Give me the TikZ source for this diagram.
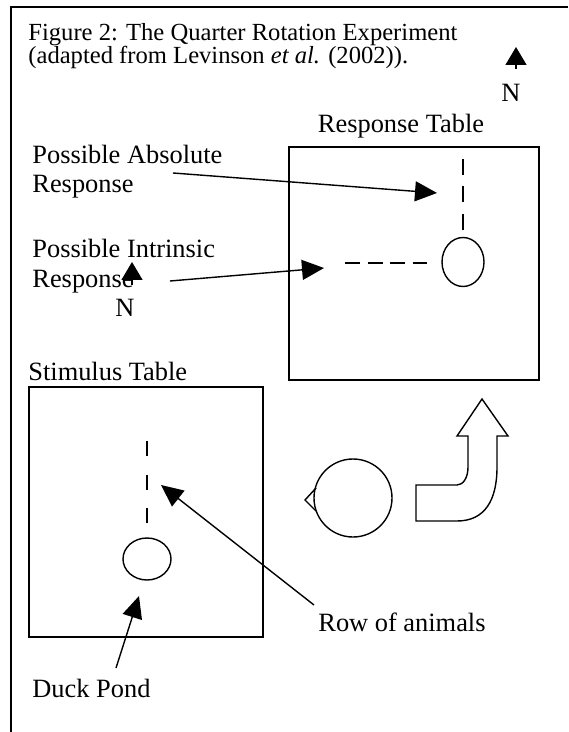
\documentclass[tikz,border=0pt]{standalone}
\usepackage{fontspec}
\setmainfont{Liberation Serif}
\usetikzlibrary{arrows.meta}
\begin{document}
\begin{tikzpicture}[x=0.5pt,y=-0.5pt,
  txt/.style={inner sep=0pt, font=\fontsize{13.2}{15}\selectfont},
  captxt/.style={inner sep=0pt, anchor=base west, font=\fontsize{12.3}{14}\selectfont},
  lbl/.style={txt, anchor=base west},
  frame/.style={line width=0.85pt},
  outline/.style={line width=0.7pt},
  pointer/.style={line width=0.7pt, -{Triangle[length=11pt,width=10pt]}},
  north/.style={line width=0.7pt, -{Triangle[length=9pt,width=10.5pt]}},
  dashA/.style={line width=0.8pt, dash pattern=on 8pt off 5.75pt},
  dashB/.style={line width=0.8pt, dash pattern=on 7.5pt off 3.75pt},
  dashC/.style={line width=0.8pt, dash pattern=on 7.5pt off 9.25pt}]
\useasboundingbox (0,0) rectangle (568,732);

% page frame (left and top edges)
\draw[frame] (568,7) -- (11,7) -- (11,732);

% caption
\node[captxt] (cap1) at (28,41) {Figure 2: The Quarter Rotation Experiment};
\node[captxt] (cap2) at (28,64) {(adapted from Levinson \textit{et al.} (2002)).};

% north indicator, top right
\coordinate (nAfoot) at (516,69);
\coordinate (nAtip) at (516,47);
\draw[north] (nAfoot) -- (nAtip);
\node[txt, anchor=base] (nA) at (511,102) {N};

% response table
\node[txt, anchor=base] (resplbl) at (401,133) {Response Table};
\draw[frame] (289,147) rectangle (539,380);
\coordinate (rvTop) at (463,159);
\coordinate (rvBot) at (463,230);
\draw[dashA] (rvTop) -- (rvBot);
\coordinate (rhL) at (345,263);
\coordinate (rhR) at (427,263);
\draw[dashB] (rhL) -- (rhR);
\draw[outline] (463,262) ellipse [x radius=10.5pt, y radius=12.25pt];

% response labels and pointers
\node[lbl] (abs1) at (32,164) {Possible Absolute};
\node[lbl] (abs2) at (32,193) {Response};
\coordinate (absStart) at (173,173);
\coordinate (absEnd) at (437,193);
\draw[pointer] (absStart) -- (absEnd);

\node[lbl] (int1) at (32,258) {Possible Intrinsic};
\node[lbl] (int2) at (32,287) {Response};
\coordinate (intStart) at (170,281);
\coordinate (intEnd) at (324,268);
\draw[pointer] (intStart) -- (intEnd);

% second north indicator
\coordinate (nBfoot) at (132,285);
\coordinate (nBtip) at (132,262);
\draw[north] (nBfoot) -- (nBtip);
\node[txt, anchor=base] (nB) at (125,316) {N};

% stimulus table
\node[lbl] (stimlbl) at (28,380) {Stimulus Table};
\draw[frame] (29,387) rectangle (263,637);
\coordinate (svTop) at (147,441);
\coordinate (svBot) at (147,523);
\draw[dashC] (svTop) -- (svBot);
\draw[outline] (147,559) ellipse [x radius=12pt, y radius=10.5pt];

\node[lbl] (rowlbl) at (318,631) {Row of animals};
\coordinate (rowStart) at (314,605);
\coordinate (rowEnd) at (161,485);
\draw[pointer] (rowStart) -- (rowEnd);

\node[lbl] (ducklbl) at (32,697) {Duck Pond};
\coordinate (duckStart) at (116,668);
\coordinate (duckEnd) at (139,596);
\draw[pointer] (duckStart) -- (duckEnd);

% observer: head seen from above with nose
\draw[outline] (353,498) circle [radius=19.5pt];
\draw[outline] (316,488) -- (305,500) -- (316,511);

% quarter-turn arrow
\draw[outline, line join=miter]
  (482,399) -- (508,436) -- (497,436) -- (497,467)
  .. controls (497,500) and (485,521) .. (457,521)
  -- (416,521) -- (416,485) -- (457,485)
  .. controls (463,485) and (468,478) .. (468,467)
  -- (468,436) -- (457,436) -- cycle;
\end{tikzpicture}
\end{document}
